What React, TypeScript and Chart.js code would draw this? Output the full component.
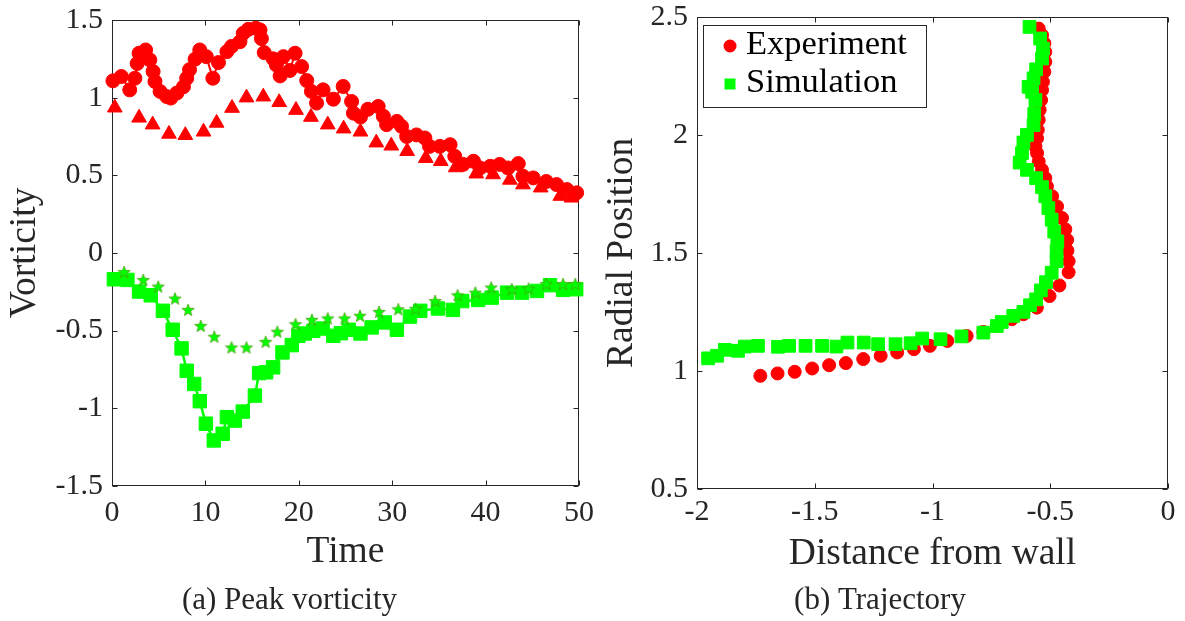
import React, { useEffect, useRef } from "react";
import { Chart, registerables } from "chart.js";

Chart.register(...registerables);

// ---------------- data: (a) Peak vorticity ----------------
const expCircT = [0.1, 1.0, 1.9, 2.45, 2.7, 2.9, 3.6, 4.05, 4.4, 4.6, 5.15, 5.85, 6.3, 6.95, 7.65, 8.0, 8.3, 8.9, 9.4, 10.1, 10.8, 11.4, 12.3, 12.8, 13.7, 14.05, 14.6, 15.4, 15.85, 16.0, 16.3, 17.25, 17.6, 18.0, 18.35, 19.05, 19.6, 20.3, 20.85, 21.35, 21.9, 22.6, 23.7, 24.75, 25.65, 25.85, 26.6, 27.4, 28.5, 29.05, 29.4, 30.5, 31.0, 31.55, 32.6, 33.5, 34.0, 35.1, 36.2, 36.7, 37.6, 38.7, 39.4, 40.5, 41.5, 42.4, 43.5, 44.0, 45.1, 46.5, 47.6, 48.7, 49.75];
const expCircV = [1.108, 1.136, 1.05, 1.125, 1.22, 1.286, 1.307, 1.243, 1.168, 1.104, 1.04, 1.007, 0.997, 1.03, 1.07, 1.125, 1.18, 1.248, 1.307, 1.264, 1.125, 1.226, 1.296, 1.33, 1.36, 1.414, 1.44, 1.447, 1.436, 1.38, 1.29, 1.25, 1.21, 1.14, 1.264, 1.175, 1.286, 1.2, 1.11, 1.04, 0.965, 1.05, 0.99, 1.072, 0.975, 0.9, 0.875, 0.925, 0.943, 0.88, 0.826, 0.847, 0.815, 0.75, 0.76, 0.74, 0.686, 0.686, 0.697, 0.622, 0.57, 0.59, 0.547, 0.558, 0.57, 0.547, 0.575, 0.494, 0.483, 0.46, 0.44, 0.408, 0.387];

const triT = [0.3, 2.9, 4.35, 6.1, 7.85, 9.8, 11.2, 12.85, 14.4, 16.2, 17.9, 19.7, 21.3, 23.1, 24.8, 26.6, 28.3, 29.9, 31.6, 33.6, 35.2, 36.8, 39.0, 40.8, 42.6, 44.0, 45.9, 48.0, 49.2];
const triV = [0.935, 0.87, 0.826, 0.766, 0.758, 0.78, 0.837, 0.933, 1.0, 1.006, 0.97, 0.92, 0.875, 0.826, 0.8, 0.78, 0.71, 0.69, 0.655, 0.61, 0.59, 0.55, 0.51, 0.505, 0.47, 0.44, 0.42, 0.366, 0.355];

const sqT = [0.2, 1.65, 2.9, 4.15, 5.45, 6.5, 7.45, 8.0, 8.8, 9.4, 10.05, 10.9, 11.85, 12.3, 13.15, 14.0, 15.3, 15.75, 16.5, 17.25, 18.25, 19.25, 19.95, 20.65, 21.55, 22.55, 23.7, 24.5, 25.35, 26.6, 27.8, 29.2, 30.5, 31.9, 33.0, 34.9, 36.5, 37.5, 39.2, 40.65, 42.3, 43.9, 45.5, 46.9, 48.3, 49.7];
const sqV = [-0.17, -0.174, -0.249, -0.273, -0.373, -0.495, -0.615, -0.759, -0.844, -0.955, -1.1, -1.208, -1.165, -1.058, -1.08, -1.022, -0.919, -0.774, -0.769, -0.737, -0.641, -0.594, -0.534, -0.519, -0.502, -0.487, -0.534, -0.517, -0.495, -0.519, -0.48, -0.448, -0.495, -0.41, -0.373, -0.358, -0.367, -0.31, -0.303, -0.288, -0.256, -0.256, -0.245, -0.208, -0.238, -0.234];

const starT = [1.3, 3.35, 4.95, 6.75, 8.15, 9.5, 10.95, 12.8, 14.4, 16.45, 17.7, 19.65, 21.4, 23.1, 24.9, 26.55, 28.6, 30.65, 32.5, 34.6, 37.0, 38.9, 40.6, 42.8, 44.6, 46.5, 48.3, 49.6];
const starV = [-0.123, -0.174, -0.217, -0.294, -0.367, -0.47, -0.54, -0.609, -0.609, -0.573, -0.508, -0.459, -0.431, -0.422, -0.422, -0.405, -0.38, -0.363, -0.36, -0.31, -0.273, -0.256, -0.223, -0.234, -0.23, -0.2, -0.2, -0.2];

const timeTicks = [0, 10, 20, 30, 40, 50];
const vortTicks = [-1.5, -1, -0.5, 0, 0.5, 1, 1.5];

// ---------------- data: (b) Trajectory ----------------
const expX = [-1.731, -1.658, -1.585, -1.511, -1.439, -1.368, -1.294, -1.22, -1.15, -1.079, -1.011, -0.937, -0.855, -0.784, -0.727, -0.663, -0.614, -0.557, -0.503, -0.461, -0.422, -0.422, -0.427, -0.428, -0.436, -0.45, -0.471, -0.492, -0.514, -0.521, -0.535, -0.549, -0.556, -0.563, -0.556, -0.553, -0.549, -0.545, -0.539, -0.535, -0.531, -0.525, -0.521, -0.521, -0.525, -0.535, -0.549];
const expY = [0.979, 0.989, 0.996, 1.01, 1.024, 1.033, 1.05, 1.064, 1.078, 1.092, 1.106, 1.127, 1.148, 1.165, 1.19, 1.219, 1.24, 1.268, 1.317, 1.362, 1.418, 1.465, 1.51, 1.555, 1.6, 1.648, 1.697, 1.74, 1.782, 1.817, 1.852, 1.887, 1.923, 1.951, 1.986, 2.021, 2.064, 2.106, 2.148, 2.19, 2.225, 2.268, 2.31, 2.352, 2.388, 2.423, 2.451];

const simX = [-1.953, -1.915, -1.882, -1.826, -1.797, -1.741, -1.656, -1.609, -1.539, -1.469, -1.408, -1.361, -1.292, -1.231, -1.157, -1.093, -1.044, -0.966, -0.877, -0.784, -0.727, -0.706, -0.657, -0.614, -0.586, -0.56, -0.54, -0.518, -0.494, -0.473, -0.473, -0.47, -0.483, -0.494, -0.508, -0.521, -0.535, -0.56, -0.599, -0.63, -0.62, -0.614, -0.599, -0.571, -0.568, -0.563, -0.577, -0.592, -0.571, -0.56, -0.535, -0.531, -0.543, -0.588];
const simY = [1.053, 1.064, 1.089, 1.085, 1.103, 1.106, 1.102, 1.106, 1.106, 1.106, 1.103, 1.12, 1.12, 1.113, 1.113, 1.117, 1.137, 1.134, 1.146, 1.162, 1.19, 1.207, 1.233, 1.25, 1.278, 1.303, 1.341, 1.376, 1.416, 1.465, 1.507, 1.549, 1.59, 1.641, 1.69, 1.74, 1.779, 1.817, 1.852, 1.883, 1.923, 1.968, 2.0, 2.042, 2.089, 2.148, 2.183, 2.204, 2.24, 2.278, 2.324, 2.366, 2.409, 2.458];

const distTicks = [-2, -1.5, -1, -0.5, 0];
const radTicks = [0.5, 1, 1.5, 2, 2.5];

// ---------------- styling ----------------
const FONT = '"Liberation Serif", "Times New Roman", serif';
const INK = "#262626";
const RED = "#ff0000";
const GREEN = "#00ff00";

Chart.defaults.font.family = FONT;
Chart.defaults.color = INK;

const pts = (xs: number[], ys: number[]) => xs.map((x, i) => ({ x, y: ys[i] }));

function starImage(r: number) {
  const size = Math.ceil(r * 2 + 3);
  const c = document.createElement("canvas");
  c.width = size;
  c.height = size;
  const ctx = c.getContext("2d")!;
  const cx = size / 2;
  const cy = size / 2 + 0.5;
  ctx.beginPath();
  for (let i = 0; i < 10; i++) {
    const rad = i % 2 === 0 ? r : r * 0.42;
    const a = -Math.PI / 2 + (i * Math.PI) / 5;
    const x = cx + rad * Math.cos(a);
    const y = cy + rad * Math.sin(a);
    if (i === 0) ctx.moveTo(x, y);
    else ctx.lineTo(x, y);
  }
  ctx.closePath();
  ctx.fillStyle = GREEN;
  ctx.fill();
  ctx.strokeStyle = "#4f9a10";
  ctx.lineWidth = 0.7;
  ctx.stroke();
  return c;
}

const boxPlugin = {
  id: "matlabBox",
  beforeDatasetsDraw(chart: any) {
    const { ctx, chartArea: a, scales } = chart;
    const sx = scales.x;
    const sy = scales.y;
    const L = Math.round(a.left) + 0.5;
    const R = Math.round(a.right) - 0.5;
    const T = Math.round(a.top) + 0.5;
    const B = Math.round(a.bottom) - 0.5;
    const tl = 5;
    ctx.save();
    ctx.strokeStyle = INK;
    ctx.lineWidth = 1;
    ctx.strokeRect(L, T, R - L, B - T);
    ctx.beginPath();
    sx.ticks.forEach((t: any) => {
      const p = Math.round(sx.getPixelForValue(t.value)) + 0.5;
      ctx.moveTo(p, B);
      ctx.lineTo(p, B - tl);
      ctx.moveTo(p, T);
      ctx.lineTo(p, T + tl);
    });
    sy.ticks.forEach((t: any) => {
      const p = Math.round(sy.getPixelForValue(t.value)) + 0.5;
      ctx.moveTo(L, p);
      ctx.lineTo(L + tl, p);
      ctx.moveTo(R, p);
      ctx.lineTo(R - tl, p);
    });
    ctx.stroke();
    ctx.restore();
  },
};

const legendPlugin = {
  id: "boxLegend",
  afterDatasetsDraw(chart: any, _args: any, opts: any) {
    if (!opts || !opts.show) return;
    const { ctx, chartArea: a } = chart;
    const bx = a.left + 6;
    const by = a.top + 8;
    const bw = 223;
    const bh = 82;
    ctx.save();
    ctx.fillStyle = "#ffffff";
    ctx.fillRect(bx, by, bw, bh);
    ctx.strokeStyle = INK;
    ctx.lineWidth = 1;
    ctx.strokeRect(Math.round(bx) + 0.5, Math.round(by) + 0.5, bw, bh);
    const rows = [by + 21, by + 59];
    chart.data.datasets.forEach((ds: any, i: number) => {
      const cy = rows[i];
      const mx = bx + 27;
      ctx.fillStyle = ds.backgroundColor;
      if (ds.pointStyle === "rect") {
        ctx.fillRect(mx - 5.5, cy - 5.5, 11, 11);
      } else {
        ctx.beginPath();
        ctx.arc(mx, cy, 6.5, 0, Math.PI * 2);
        ctx.fill();
      }
      ctx.fillStyle = "#000000";
      ctx.font = `34.5px ${FONT}`;
      ctx.textBaseline = "middle";
      ctx.textAlign = "left";
      ctx.fillText(ds.label, bx + 43, cy - 1);
    });
    ctx.restore();
  },
};

function axis(
  min: number,
  max: number,
  ticks: number[],
  size: (s: any) => void,
  tickPad: number,
  title: string,
  titlePad: any
) {
  return {
    type: "linear",
    min,
    max,
    afterBuildTicks: (s: any) => {
      s.ticks = ticks.map((v) => ({ value: v }));
    },
    afterFit: (s: any) => {
      size(s);
      s.paddingTop = 0;
      s.paddingBottom = 0;
      s.paddingLeft = 0;
      s.paddingRight = 0;
    },
    grid: { display: false, drawTicks: false, tickLength: 0 },
    border: { display: false },
    ticks: {
      autoSkip: false,
      maxRotation: 0,
      minRotation: 0,
      padding: tickPad,
      color: INK,
      font: { family: FONT, size: 30, lineHeight: 1 },
      callback: (v: any) => String(v),
    },
    title: {
      display: true,
      text: title,
      color: INK,
      font: { family: FONT, size: 37.5, lineHeight: 1.2 },
      padding: titlePad,
    },
  };
}

function baseOptions(pad: any, caption: string, xAxis: any, yAxis: any, showLegend: boolean) {
  return {
    animation: false,
    responsive: false,
    maintainAspectRatio: false,
    events: [],
    layout: { padding: pad },
    plugins: {
      legend: { display: false },
      tooltip: { enabled: false },
      boxLegend: { show: showLegend },
      title: {
        display: true,
        position: "bottom",
        text: caption,
        color: INK,
        font: { family: FONT, size: 31, lineHeight: 1.2, weight: "normal" },
        padding: 0,
      },
    },
    scales: { x: xAxis, y: yAxis },
  };
}

function leftConfig(): any {
  const star = starImage(6.5);
  return {
    type: "scatter",
    data: {
      datasets: [
        {
          label: "Experiment peak",
          data: pts(expCircT, expCircV),
          showLine: true,
          borderColor: RED,
          backgroundColor: RED,
          borderWidth: 2,
          pointStyle: "circle",
          pointRadius: 7,
          pointBorderWidth: 1,
          pointBorderColor: RED,
          pointBackgroundColor: RED,
          clip: false,
        },
        {
          label: "Simulation peak",
          data: pts(triT, triV),
          showLine: false,
          backgroundColor: RED,
          borderColor: RED,
          pointStyle: "triangle",
          pointRadius: 8.5,
          pointBorderWidth: 1,
          clip: false,
        },
        {
          label: "Simulation min",
          data: pts(starT, starV),
          showLine: false,
          backgroundColor: GREEN,
          borderColor: GREEN,
          pointStyle: star,
          pointRadius: 7,
          clip: false,
        },
        {
          label: "Experiment min",
          data: pts(sqT, sqV),
          showLine: true,
          borderColor: GREEN,
          backgroundColor: GREEN,
          borderWidth: 2.5,
          pointStyle: "rect",
          pointRadius: 9.5,
          pointBorderWidth: 1,
          pointBorderColor: GREEN,
          pointBackgroundColor: GREEN,
          clip: false,
        },
      ],
    },
    options: baseOptions(
      { top: 20, left: 0, right: 25, bottom: 2 },
      "(a) Peak vorticity",
      axis(0, 50, timeTicks, (s: any) => { s.height = 96; }, 12, "Time", { top: 0, bottom: 7 }),
      axis(-1.5, 1.5, vortTicks, (s: any) => { s.width = 112; }, 9, "Vorticity", { top: 3, bottom: 0 }),
      false
    ),
    plugins: [boxPlugin, legendPlugin],
  };
}

function rightConfig(): any {
  return {
    type: "scatter",
    data: {
      datasets: [
        {
          label: "Experiment",
          data: pts(expX, expY),
          showLine: false,
          backgroundColor: RED,
          borderColor: RED,
          pointStyle: "circle",
          pointRadius: 6.5,
          pointBorderWidth: 1,
          order: 1,
          clip: false,
        },
        {
          label: "Simulation",
          data: pts(simX, simY),
          showLine: false,
          backgroundColor: GREEN,
          borderColor: GREEN,
          pointStyle: "rect",
          pointRadius: 9,
          pointBorderWidth: 1,
          order: 0,
          clip: false,
        },
      ],
    },
    options: baseOptions(
      { top: 17, left: 0, right: 17, bottom: 2 },
      "(b) Trajectory",
      axis(-2, 0, distTicks, (s: any) => { s.height = 93; }, 8, "Distance from wall", { top: 0, bottom: 5 }),
      axis(0.5, 2.5, radTicks, (s: any) => { s.width = 105; }, 9, "Radial Position", { top: 8, bottom: 0 }),
      true
    ),
    plugins: [boxPlugin, legendPlugin],
  };
}

export default function App() {
  const leftRef = useRef<HTMLCanvasElement>(null);
  const rightRef = useRef<HTMLCanvasElement>(null);

  useEffect(() => {
    const c1 = new Chart(leftRef.current as HTMLCanvasElement, leftConfig());
    const c2 = new Chart(rightRef.current as HTMLCanvasElement, rightConfig());
    return () => {
      c1.destroy();
      c2.destroy();
    };
  }, []);

  return (
    <div
      style={{
        position: "fixed",
        left: 0,
        top: 0,
        width: 1185,
        height: 621,
        background: "#ffffff",
        overflow: "hidden",
      }}
    >
      <canvas
        ref={leftRef}
        width={604}
        height={621}
        style={{ position: "absolute", left: 0, top: 0, width: 604, height: 621 }}
      />
      <canvas
        ref={rightRef}
        width={593}
        height={621}
        style={{ position: "absolute", left: 592, top: 0, width: 593, height: 621 }}
      />
    </div>
  );
}
